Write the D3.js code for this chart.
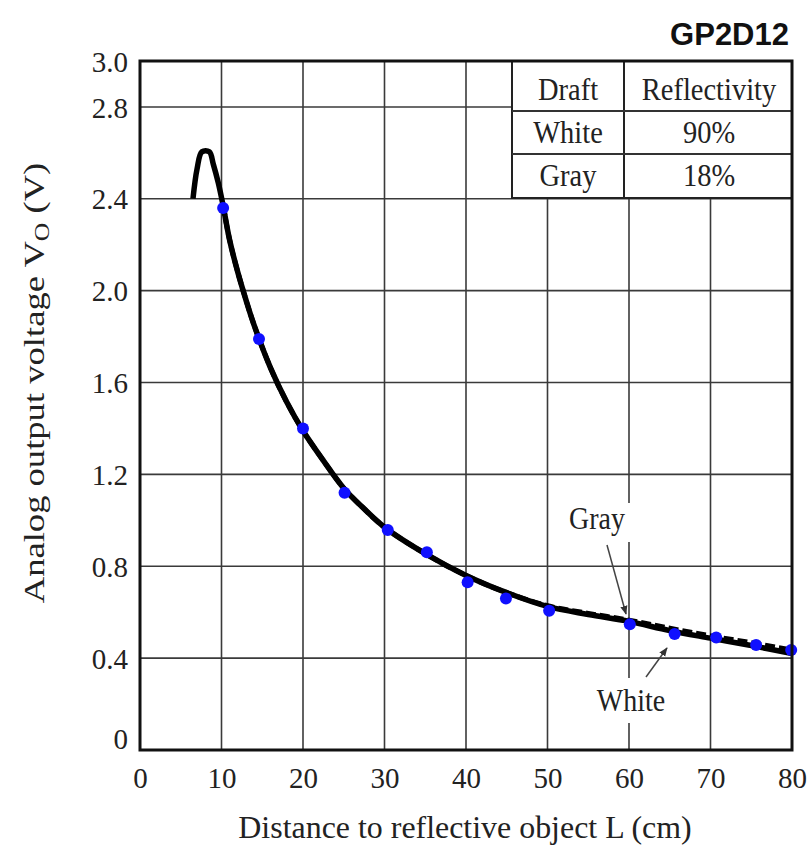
<!DOCTYPE html>
<html>
<head>
<meta charset="utf-8">
<script src="https://cdn.jsdelivr.net/npm/d3@7"></script>
<style>
  html, body { margin: 0; padding: 0; background: #fff; }
  svg { display: block; }
</style>
</head>
<body>
<svg id="chart" width="811" height="850"></svg>
<script>
// ---------- DATA ----------
const chartTitle = "GP2D12";
const xTicks = [0, 10, 20, 30, 40, 50, 60, 70, 80];
const yTicks = [0, 0.4, 0.8, 1.2, 1.6, 2.0, 2.4, 2.8, 3.0];
const yTickLabels = ["0", "0.4", "0.8", "1.2", "1.6", "2.0", "2.4", "2.8", "3.0"];
const xTitle = "Distance to reflective object L (cm)";

// White (90%) characteristic curve
const whiteDist = [6.5, 7.0, 7.6, 8.5, 9.0, 9.6, 10.2, 11, 12, 13, 14, 16, 18, 20, 22.5, 25, 27.5, 30, 35, 40, 45, 50, 55, 60, 65, 70, 75, 80];
const whiteVolt = [2.40, 2.53, 2.605, 2.605, 2.55, 2.47, 2.37, 2.22, 2.08, 1.96, 1.85, 1.665, 1.515, 1.39, 1.26, 1.14, 1.05, 0.97, 0.855, 0.76, 0.685, 0.625, 0.59, 0.56, 0.52, 0.487, 0.455, 0.42];
// Gray (18%) characteristic curve
const grayDist = [10.2, 11, 12, 13, 14, 16, 18, 20, 22.5, 25, 27.5, 30, 35, 40, 45, 50, 55, 60, 65, 70, 75, 80];
const grayVolt = [2.37, 2.22, 2.08, 1.96, 1.85, 1.665, 1.515, 1.39, 1.26, 1.14, 1.05, 0.97, 0.855, 0.76, 0.685, 0.628, 0.595, 0.565, 0.53, 0.497, 0.467, 0.435];
// Measured points (blue)
const measDist = [10.2, 14.6, 20.0, 25.1, 30.4, 35.2, 40.2, 44.9, 50.2, 60.1, 65.6, 70.7, 75.6, 79.9];
const measVolt = [2.36, 1.79, 1.40, 1.12, 0.958, 0.861, 0.73, 0.66, 0.606, 0.547, 0.505, 0.49, 0.457, 0.435];

// Legend table
const tableDraft = ["Draft", "White", "Gray"];
const tableRefl = ["Reflectivity", "90%", "18%"];

// ---------- LAYOUT ----------
const svg = d3.select("#chart");
const L = 140, R = 792, T = 61, B = 750;
const x = d3.scaleLinear().domain([0, 80]).range([L, R]);
const y = d3.scaleLinear().domain([0, 3.0]).range([B, T]);
const serif = "'Liberation Serif', 'Times New Roman', serif";
const txtCol = "#222";
const gridCol = "#3a3a3a";

// Gridlines
const grid = svg.append("g");
grid.selectAll("line.v").data(xTicks.filter(d => d > 0 && d < 80)).join("line")
  .attr("x1", d => x(d)).attr("x2", d => x(d)).attr("y1", T).attr("y2", B)
  .attr("stroke", gridCol).attr("stroke-width", 1.6);
grid.selectAll("line.h").data(yTicks.filter(d => d > 0 && d < 3.0)).join("line")
  .attr("x1", L).attr("x2", R).attr("y1", d => y(d)).attr("y2", d => y(d))
  .attr("stroke", gridCol).attr("stroke-width", 1.6);

// Legend table (white background hides grid)
const tL = 512, tM = 624, tR = R;
const rowY = [T, 111, 154, 198];
const rowBase = [100, 143, 186];
const tbl = svg.append("g");
tbl.append("rect").attr("x", tL).attr("y", T).attr("width", tR - tL).attr("height", rowY[3] - T)
  .attr("fill", "#fff").attr("stroke", "#222").attr("stroke-width", 2);
tbl.append("line").attr("x1", tM).attr("x2", tM).attr("y1", T).attr("y2", rowY[3]).attr("stroke", "#222").attr("stroke-width", 2);
[rowY[1], rowY[2]].forEach(v => tbl.append("line").attr("x1", tL).attr("x2", tR).attr("y1", v).attr("y2", v).attr("stroke", "#333").attr("stroke-width", 2));
tableDraft.forEach((t, i) => {
  tbl.append("text").attr("transform", `translate(${(tL + tM) / 2},${rowBase[i]}) scale(1,1.12)`)
    .attr("text-anchor", "middle").attr("font-family", serif).attr("font-size", 28.5).attr("fill", txtCol).text(t);
  tbl.append("text").attr("transform", `translate(${(tM + tR) / 2 + 1},${rowBase[i]}) scale(1,1.12)`)
    .attr("text-anchor", "middle").attr("font-family", serif).attr("font-size", 28.5).attr("fill", txtCol).text(tableRefl[i]);
});

// Annotation label backgrounds (break gridline)
const ann = svg.append("g");
ann.append("rect").attr("x", 565).attr("y", 503).attr("width", 66).attr("height", 39).attr("fill", "#fff");
ann.append("rect").attr("x", 590).attr("y", 678).attr("width", 82).attr("height", 45).attr("fill", "#fff");

// Curves
const line = d3.line().x(d => x(d[0])).y(d => y(d[1])).curve(d3.curveCatmullRom.alpha(0.5));
svg.append("path").datum(grayDist.map((d, i) => [d, grayVolt[i]]))
  .attr("d", line).attr("fill", "none").attr("stroke", "#000").attr("stroke-width", 5)
  .attr("stroke-dasharray", "10,4");
svg.append("path").datum(whiteDist.map((d, i) => [d, whiteVolt[i]]))
  .attr("d", line).attr("fill", "none").attr("stroke", "#000").attr("stroke-width", 5.5)
  .attr("stroke-linejoin", "round");

// Measured points
svg.append("g").selectAll("circle").data(measDist.map((d, i) => [d, measVolt[i]])).join("circle")
  .attr("cx", d => x(d[0])).attr("cy", d => y(d[1])).attr("r", 6).attr("fill", "#1010ff");

// Annotations text & arrows
const defs = svg.append("defs");
defs.append("marker").attr("id", "ah").attr("viewBox", "0 0 10 10").attr("refX", 9).attr("refY", 5)
  .attr("markerWidth", 6).attr("markerHeight", 6).attr("orient", "auto")
  .append("path").attr("d", "M0,1 L10,5 L0,9 z").attr("fill", "#333");
ann.append("text").attr("transform", "translate(597,529) scale(1,1.12)").attr("text-anchor", "middle")
  .attr("font-family", serif).attr("font-size", 28).attr("fill", txtCol).text("Gray");
ann.append("line").attr("x1", 607).attr("y1", 545).attr("x2", 626).attr("y2", 614)
  .attr("stroke", "#444").attr("stroke-width", 1.5).attr("marker-end", "url(#ah)");
ann.append("text").attr("transform", "translate(631,711) scale(1,1.12)").attr("text-anchor", "middle")
  .attr("font-family", serif).attr("font-size", 28).attr("fill", txtCol).text("White");
ann.append("line").attr("x1", 646).attr("y1", 677).attr("x2", 667).attr("y2", 648)
  .attr("stroke", "#444").attr("stroke-width", 1.5).attr("marker-end", "url(#ah)");

// Frame
svg.append("rect").attr("x", L).attr("y", T).attr("width", R - L).attr("height", B - T)
  .attr("fill", "none").attr("stroke", "#111").attr("stroke-width", 3);

// Axes (labels only)
const xAxis = d3.axisBottom(x).tickValues(xTicks).tickSize(0).tickPadding(0).tickFormat(d3.format("d"));
const gx = svg.append("g").attr("transform", `translate(0,${B})`).call(xAxis);
gx.select(".domain").remove();
gx.selectAll("text").attr("dy", 0).attr("y", 38).attr("font-family", serif).attr("font-size", 29).attr("fill", txtCol);

const yAxis = d3.axisLeft(y).tickValues(yTicks).tickSize(0).tickPadding(0).tickFormat((d, i) => yTickLabels[i]);
const gy = svg.append("g").attr("transform", `translate(${L - 12},0)`).call(yAxis);
gy.select(".domain").remove();
gy.selectAll("text").attr("font-family", serif).attr("font-size", 29).attr("fill", txtCol)
  .attr("dy", d => d === 0 ? "-0.05em" : "0.35em");

// Axis titles
svg.append("text").attr("transform", `translate(${(L + R) / 2 - 1},838) scale(1.03,1)`).attr("text-anchor", "middle")
  .attr("font-family", serif).attr("font-size", 31).attr("fill", txtCol).text(xTitle);
const yt = svg.append("text").attr("transform", `translate(44,383) rotate(-90) scale(1.22,1)`).attr("text-anchor", "middle")
  .attr("font-family", serif).attr("font-size", 30).attr("fill", txtCol);
yt.append("tspan").text("Analog output voltage V");
yt.append("tspan").attr("font-size", 21).attr("dy", 5).text("O");
yt.append("tspan").attr("dy", -5).text(" (V)");

// Title
svg.append("text").attr("x", 789).attr("y", 45).attr("text-anchor", "end")
  .attr("font-family", "'Liberation Sans', Arial, sans-serif").attr("font-weight", "bold")
  .attr("font-size", 31).attr("fill", "#111").text(chartTitle);
</script>
</body>
</html>
